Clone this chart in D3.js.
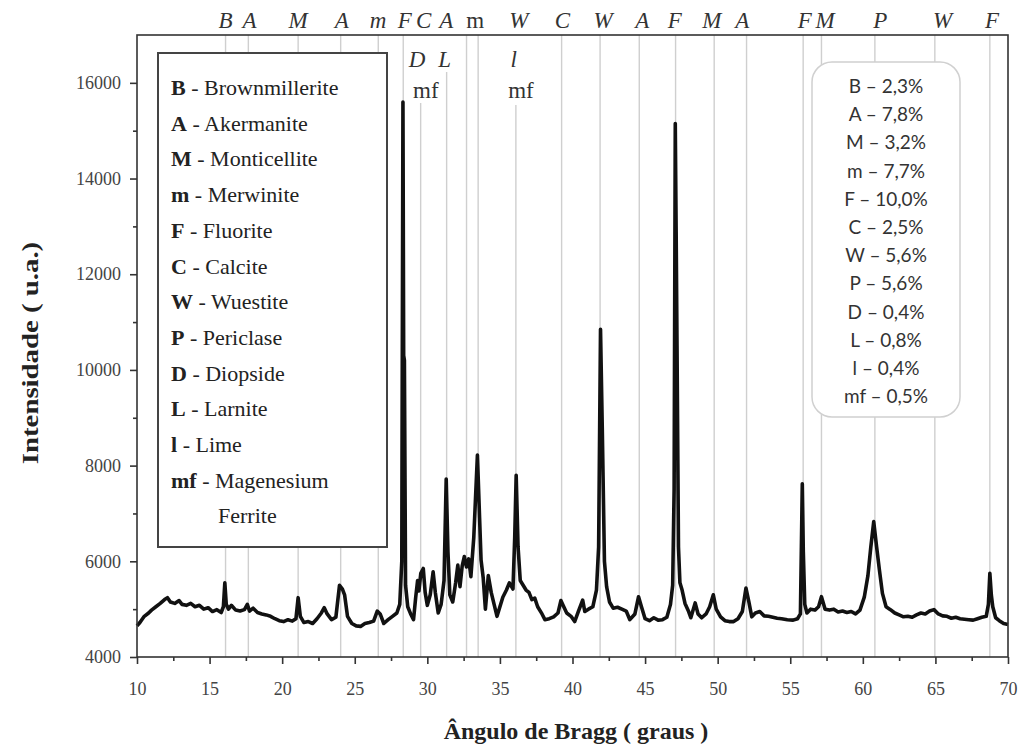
<!DOCTYPE html>
<html>
<head>
<meta charset="utf-8">
<script src="https://cdn.jsdelivr.net/npm/d3@7"></script>
<style>
  html, body { margin: 0; padding: 0; background: #fff; }
  svg { display: block; }
</style>
</head>
<body>
<svg id="chart" width="1023" height="749"></svg>
<script>
// Diffraction angle (2θ, degrees) and measured intensity (a.u.)
const twoTheta = [
  10.0, 10.2, 10.5, 10.8, 11.0, 11.3, 11.6, 11.9, 12.1, 12.3, 12.6, 12.9, 13.1, 13.4, 13.7,
  14.0, 14.3, 14.6, 14.9, 15.2, 15.5, 15.8, 15.95, 16.05, 16.15, 16.3, 16.5, 16.8, 17.1, 17.4,
  17.6, 17.75, 18.0, 18.3, 18.6, 18.9, 19.2, 19.5, 19.8, 20.1, 20.4, 20.7, 20.95, 21.1, 21.25,
  21.5, 21.8, 22.1, 22.4, 22.7, 22.9, 23.1, 23.4, 23.7, 23.95, 24.15, 24.3, 24.5, 24.8, 25.1,
  25.4, 25.7, 26.0, 26.3, 26.55, 26.75, 27.0, 27.3, 27.6, 27.9, 28.1, 28.24, 28.32, 28.37, 28.42,
  28.5, 28.65, 28.85, 29.05, 29.2, 29.33, 29.42, 29.55, 29.72, 29.85, 30.0, 30.2, 30.4, 30.55, 30.75,
  30.95, 31.15, 31.3, 31.42, 31.55, 31.75, 31.95, 32.1, 32.25, 32.4, 32.55, 32.7, 32.85, 33.0, 33.2,
  33.45, 33.6, 33.7, 33.85, 34.0, 34.2, 34.4, 34.6, 34.8, 35.0, 35.2, 35.45, 35.65, 35.9, 36.02,
  36.12, 36.25, 36.4, 36.6, 36.8, 37.0, 37.2, 37.4, 37.6, 37.9, 38.1, 38.4, 38.7, 39.0, 39.2,
  39.35, 39.6, 39.9, 40.15, 40.4, 40.7, 40.85, 41.1, 41.4, 41.65, 41.8, 41.93, 42.05, 42.2, 42.35,
  42.55, 42.8, 43.1, 43.4, 43.7, 43.95, 44.3, 44.55, 44.75, 45.0, 45.3, 45.6, 45.9, 46.2, 46.5,
  46.75, 46.9, 47.0, 47.08, 47.14, 47.2, 47.3, 47.4, 47.55, 47.75, 48.0, 48.15, 48.45, 48.65, 48.9,
  49.2, 49.45, 49.7, 49.9, 50.2, 50.5, 50.8, 51.1, 51.4, 51.7, 51.95, 52.15, 52.35, 52.6, 52.9,
  53.2, 53.5, 53.8, 54.1, 54.4, 54.8, 55.2, 55.5, 55.7, 55.83, 55.9, 56.0, 56.15, 56.4, 56.7,
  56.95, 57.15, 57.4, 57.7, 58.0, 58.3, 58.6, 58.9, 59.2, 59.5, 59.8, 60.1, 60.35, 60.55, 60.75,
  60.95, 61.15, 61.35, 61.6, 61.9, 62.2, 62.5, 62.8, 63.1, 63.4, 63.7, 64.0, 64.3, 64.6, 64.9,
  65.2, 65.5, 65.8, 66.1, 66.4, 66.7, 67.0, 67.3, 67.6, 67.9, 68.2, 68.5, 68.65, 68.75, 68.85,
  68.95, 69.15, 69.4, 69.7, 70.0
];
const intensity = [
  4650, 4720, 4850, 4920, 4980, 5050, 5120, 5200, 5240, 5150, 5120, 5180, 5100, 5080, 5120,
  5050, 5080, 5000, 5030, 4950, 4990, 4930, 5050, 5550, 5100, 5000, 5080, 4980, 4960, 4990,
  5100, 4960, 5020, 4930, 4900, 4880, 4850, 4800, 4760, 4740, 4780, 4750, 4800, 5240, 4850,
  4720, 4740, 4700, 4800, 4920, 5030, 4900, 4780, 4830, 5500, 5420, 5300, 4850, 4700, 4650,
  4640, 4700, 4720, 4750, 4960, 4900, 4700, 4780, 4850, 4920, 5100, 6000, 15600, 10300, 10200,
  5500, 5050, 4900, 4780, 5250, 5600, 5380, 5750, 5850, 5350, 5080, 5300, 5780, 5350, 4920,
  5100, 5600, 7720, 6200, 5300, 5150, 5550, 5920, 5470, 5900, 6100, 5880, 6050, 5680, 6500,
  8220, 6900, 6030, 5650, 5000, 5700, 5350, 5100, 4850, 5050, 5250, 5400, 5550, 5420, 6500,
  7800, 6300, 5600, 5500, 5400, 5350, 5200, 5230, 5050, 4900, 4780, 4800, 4840, 4920, 5180,
  5080, 4920, 4850, 4740, 4950, 5190, 4950, 5000, 5050, 5400, 6300, 10850, 8800, 6000, 5470,
  5150, 5020, 5040, 5000, 4960, 4780, 4900, 5260, 5050, 4800, 4760, 4820, 4770, 4780, 4830,
  5100, 5500, 7500, 15150, 12900, 10500, 6300, 5550, 5400, 5120, 4950, 4820, 5130, 4900, 4820,
  4900, 5050, 5300, 5000, 4840, 4760, 4740, 4740, 4800, 4950, 5440, 5150, 4840, 4920, 4950,
  4860, 4850, 4830, 4810, 4800, 4780, 4770, 4800, 4900, 7620, 6200, 5100, 4920, 5000, 4980,
  5050, 5260, 5000, 4980, 5000, 4940, 4960, 4930, 4950, 4900, 4980, 5250, 5700, 6300, 6830,
  6300, 5800, 5330, 5050, 4990, 4920, 4880, 4840, 4850, 4830, 4880, 4920, 4900, 4960, 4990,
  4900, 4860, 4850, 4810, 4830, 4800, 4790, 4780, 4770, 4800, 4830, 4850, 5100, 5750, 5300,
  5050, 4820, 4760, 4700, 4680
];

// Reference positions of identified phase reflections (2θ)
const refLines = [16.1, 17.67, 21.1, 24.03, 26.62, 28.34, 29.54, 31.33, 32.7, 33.5, 36.1,
  39.25, 41.9, 44.6, 47.1, 49.76, 51.99, 55.89, 57.15, 60.83, 64.96, 68.75];

// Phase letters along the top edge
const topLabels = ["B", "A", "M", "A", "m", "F", "C", "A", "m", "W", "C", "W", "A", "F", "M", "A", "F", "M", "P", "W", "F"];
const topLabelAt = [16.1, 17.75, 21.1, 24.1, 26.6, 28.45, 29.75, 31.3, 33.3, 36.3, 39.3, 42.1, 44.8, 47.05, 49.6, 51.7, 56.0, 57.4, 61.2, 65.5, 68.9];
const topLabelUpright = [false, false, false, false, false, false, false, false, true, false, false, false, false, false, false, false, false, false, false, false, false];

// Secondary letters under the top edge
const subLabels = ["D", "L", "l", "mf", "mf"];
const subLabelAt = [29.3, 31.2, 35.95, 29.9, 36.45];
const subLabelRow = [0, 0, 0, 1, 1];
const subLabelItalic = [true, true, true, false, false];

// Legend: phase code and name
const legendCodes = ["B", "A", "M", "m", "F", "C", "W", "P", "D", "L", "l", "mf", ""];
const legendNames = ["Brownmillerite", "Akermanite", "Monticellite", "Merwinite", "Fluorite",
  "Calcite", "Wuestite", "Periclase", "Diopside", "Larnite", "Lime", "Magenesium", "Ferrite"];

// Quantified phase contents
const phaseCodes = ["B", "A", "M", "m", "F", "C", "W", "P", "D", "L", "l", "mf"];
const phasePercent = ["2,3", "7,8", "3,2", "7,7", "10,0", "2,5", "5,6", "5,6", "0,4", "0,8", "0,4", "0,5"];

// Axis ticks
const xTicks = [10, 15, 20, 25, 30, 35, 40, 45, 50, 55, 60, 65, 70];
const xMinor = [12.5, 17.5, 22.5, 27.5, 32.5, 37.5, 42.5, 47.5, 52.5, 57.5, 62.5, 67.5];
const yTicks = [4000, 6000, 8000, 10000, 12000, 14000, 16000];
const yMinor = [5000, 7000, 9000, 11000, 13000, 15000];

const svg = d3.select("#chart");
const serif = "Liberation Serif, Times New Roman, serif";
const plotL = 137, plotR = 1008, plotT = 35, plotB = 657;

const x = d3.scaleLinear().domain([10, 70]).range([plotL, plotR]);
const y = d3.scaleLinear().domain([4000, 17000]).range([plotB, plotT]);

// Reference lines; some start below the secondary labels
const lineStart = { 29.54: 103, 31.33: 72, 36.1: 105 };
svg.append("g").selectAll("line").data(refLines).join("line")
  .attr("x1", d => x(d)).attr("x2", d => x(d))
  .attr("y1", d => lineStart[d] !== undefined ? lineStart[d] : plotT)
  .attr("y2", plotB)
  .attr("stroke", "#cfcfcf").attr("stroke-width", 1.4);

// Diffraction pattern
const pts = twoTheta.map((t, i) => [t, intensity[i]]);
svg.append("path")
  .datum(pts)
  .attr("fill", "none")
  .attr("stroke", "#111")
  .attr("stroke-width", 3.6)
  .attr("stroke-linejoin", "round")
  .attr("d", d3.line().x(d => x(d[0])).y(d => y(d[1])));

// Frame
svg.append("rect")
  .attr("x", plotL).attr("y", plotT)
  .attr("width", plotR - plotL).attr("height", plotB - plotT)
  .attr("fill", "none").attr("stroke", "#333").attr("stroke-width", 1.6);

// Axes
function styleAxis(g) {
  g.attr("font-family", serif).attr("font-size", 18);
  g.select(".domain").remove();
  g.selectAll(".tick line").attr("stroke", "#333").attr("stroke-width", 1.6);
  g.selectAll(".tick text").attr("fill", "#444");
}
svg.append("g").attr("transform", `translate(0,${plotB})`)
  .call(d3.axisBottom(x).tickValues(xTicks).tickSize(7).tickPadding(18).tickFormat(d3.format("d")))
  .call(styleAxis);
svg.append("g").attr("transform", `translate(0,${plotB})`)
  .call(d3.axisBottom(x).tickValues(xMinor).tickSize(4).tickFormat(""))
  .call(styleAxis);
svg.append("g").attr("transform", `translate(${plotL},0)`)
  .call(d3.axisLeft(y).tickValues(yTicks).tickSize(7).tickPadding(9).tickFormat(d3.format("d")))
  .call(styleAxis);
svg.append("g").attr("transform", `translate(${plotL},0)`)
  .call(d3.axisLeft(y).tickValues(yMinor).tickSize(4).tickFormat(""))
  .call(styleAxis);

// Axis titles
svg.append("text")
  .attr("x", 576).attr("y", 739)
  .attr("text-anchor", "middle")
  .attr("font-family", serif).attr("font-weight", "bold").attr("font-size", 24)
  .attr("fill", "#222")
  .text("Ângulo de Bragg ( graus )");
svg.append("text")
  .attr("transform", "translate(38,353) scale(1,1.2) rotate(-90)")
  .attr("text-anchor", "middle")
  .attr("font-family", serif).attr("font-weight", "bold").attr("font-size", 24)
  .attr("fill", "#222")
  .text("Intensidade ( u.a.)");

// Phase letters above the frame
svg.append("g").selectAll("text").data(topLabels).join("text")
  .attr("x", (d, i) => x(topLabelAt[i])).attr("y", 28)
  .attr("text-anchor", "middle")
  .attr("font-family", serif).attr("font-size", 23)
  .attr("font-style", (d, i) => topLabelUpright[i] ? "normal" : "italic")
  .attr("fill", "#333")
  .text(d => d);

// Secondary letters inside the frame
svg.append("g").selectAll("text").data(subLabels).join("text")
  .attr("x", (d, i) => x(subLabelAt[i])).attr("y", (d, i) => subLabelRow[i] === 0 ? 67 : 98)
  .attr("text-anchor", "middle")
  .attr("font-family", serif).attr("font-size", 23)
  .attr("font-style", (d, i) => subLabelItalic[i] ? "italic" : "normal")
  .attr("fill", "#333")
  .text(d => d);

// Legend box
const lg = svg.append("g");
lg.append("rect")
  .attr("x", 158).attr("y", 53).attr("width", 229).attr("height", 494)
  .attr("fill", "#fff").attr("stroke", "#444").attr("stroke-width", 2);
const lgText = lg.selectAll("text").data(legendNames).join("text")
  .attr("x", (d, i) => legendCodes[i] ? 171 : 218)
  .attr("y", (d, i) => 95 + i * 35.7)
  .attr("font-family", serif).attr("font-size", 22)
  .attr("fill", "#222");
lgText.each(function (d, i) {
  const t = d3.select(this);
  if (legendCodes[i]) {
    t.append("tspan").attr("font-weight", "bold").text(legendCodes[i]);
    t.append("tspan").text(" - " + d);
  } else {
    t.append("tspan").text(d);
  }
});

// Phase content box
const pb = svg.append("g");
pb.append("rect")
  .attr("x", 812).attr("y", 62).attr("width", 148).attr("height", 355)
  .attr("rx", 20).attr("ry", 20)
  .attr("fill", "#fff").attr("stroke", "#d0d0d0").attr("stroke-width", 1.5);
pb.selectAll("text").data(phaseCodes).join("text")
  .attr("x", 886).attr("y", (d, i) => 93 + i * 28.2)
  .attr("text-anchor", "middle")
  .attr("font-family", "Lato, Open Sans, sans-serif").attr("font-size", 19)
  .attr("fill", "#333")
  .text((d, i) => `${d} – ${phasePercent[i]}%`);
</script>
</body>
</html>
